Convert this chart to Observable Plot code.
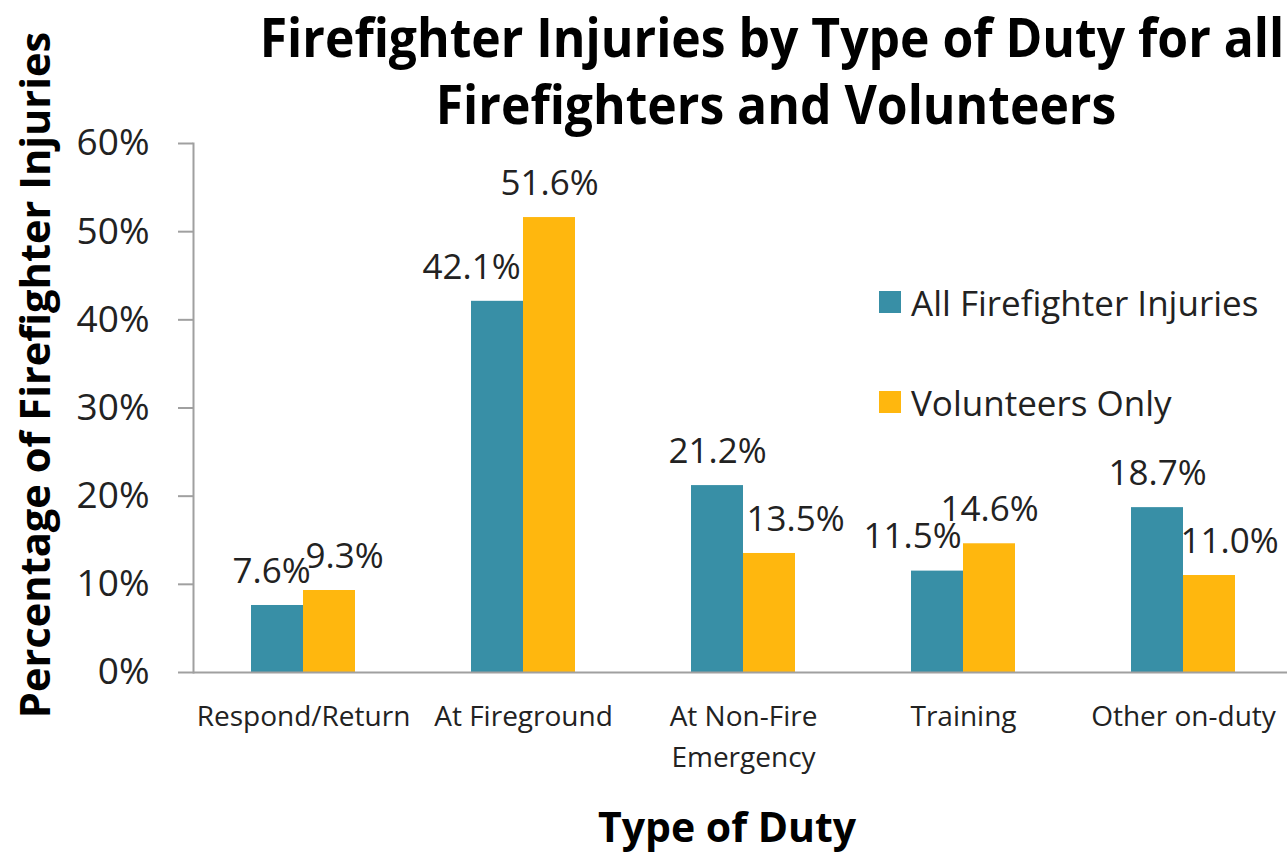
<!DOCTYPE html>
<html>
<head>
<meta charset="utf-8">
<script src="https://cdn.jsdelivr.net/npm/d3@7"></script>
<script src="https://cdn.jsdelivr.net/npm/@observablehq/plot@0.6"></script>
<style>
  html, body { margin: 0; padding: 0; background: #fff; }
  #wrap { position: relative; width: 1287px; height: 857px; overflow: hidden; font-family: "Open Sans", sans-serif; color: #1a1a1a; }
  #chart { position: absolute; left: 0; top: 0; }
  .abs { position: absolute; white-space: nowrap; line-height: 1; }
  .title { font-weight: 700; font-size: 53px; color: #000; transform: translate(-50%, -50%) scaleX(0.94); }
  .ytitle { font-weight: 700; font-size: 42px; color: #000; transform: translate(-50%, -50%) rotate(-90deg) scaleX(0.99); }
  .xtitle { font-weight: 700; font-size: 41px; color: #000; transform: translate(-50%, -50%); }
  .leg { font-size: 35px; color: #222; transform: translateY(-50%); }
  .sw { position: absolute; width: 22px; height: 22px; }
</style>
</head>
<body>
<div id="wrap">
  <div id="chart"></div>
  <div class="abs title" id="t1" style="left:772px; top:36px;"></div>
  <div class="abs title" id="t2" style="left:776px; top:103px;"></div>
  <div class="abs ytitle" id="yt" style="left:34px; top:375px;"></div>
  <div class="abs xtitle" id="xt" style="left:727px; top:826px;"></div>
  <div id="legend"></div>
</div>
<script>
// ---- data ----
const titleLines = ["Firefighter Injuries by Type of Duty for all", "Firefighters and Volunteers"];
const yTitle = "Percentage of Firefighter Injuries";
const xTitle = "Type of Duty";
const categories = ["Respond/Return", "At Fireground", "At Non-Fire Emergency", "Training", "Other on-duty"];
const tickLabels = ["Respond/Return", "At Fireground", "At Non-Fire\nEmergency", "Training", "Other on-duty"];
const seriesNames = ["All Firefighter Injuries", "Volunteers Only"];
const allInjuries = [7.6, 42.1, 21.2, 11.5, 18.7];
const volunteersOnly = [9.3, 51.6, 13.5, 14.6, 11.0];
const yTicks = [0, 10, 20, 30, 40, 50, 60];
const colors = ["#388fa6", "#ffb70e"];
// label nudges (horizontal, px) to mimic the reference's label placement
const nudgeAll = [-6, -26, 0, -25, 0];
const nudgeVol = [15, 0, 26, 0, 20];

document.getElementById("t1").textContent = titleLines[0];
document.getElementById("t2").textContent = titleLines[1];
document.getElementById("yt").textContent = yTitle;
document.getElementById("xt").textContent = xTitle;

// legend (HTML)
const legend = document.getElementById("legend");
const legendTops = [302, 402];
seriesNames.forEach((name, i) => {
  const sw = document.createElement("div");
  sw.className = "sw";
  sw.style.left = "879px";
  sw.style.top = (legendTops[i] - 11) + "px";
  sw.style.background = colors[i];
  legend.appendChild(sw);
  const t = document.createElement("div");
  t.className = "abs leg";
  t.style.left = "911px";
  t.style.top = legendTops[i] + "px";
  t.textContent = name;
  legend.appendChild(t);
});

const rows = [];
categories.forEach((c, i) => {
  rows.push({category: c, series: seriesNames[0], value: allInjuries[i], dx: -26 + nudgeAll[i]});
  rows.push({category: c, series: seriesNames[1], value: volunteersOnly[i], dx: 26 + nudgeVol[i]});
});
const rowsA = rows.filter(d => d.series === seriesNames[0]);
const rowsV = rows.filter(d => d.series === seriesNames[1]);

const grey = "#a0a0a0";
const labelMap = new Map(categories.map((c, i) => [c, tickLabels[i]]));

const chart = Plot.plot({
  width: 1287,
  height: 857,
  marginTop: 143,
  marginBottom: 185,
  marginLeft: 193,
  marginRight: 0,
  style: {fontFamily: "'Open Sans', sans-serif", background: "transparent", color: "#222"},
  x: {type: "band", domain: categories, range: [193, 1293], paddingInner: 0, paddingOuter: 0},
  y: {domain: [0, 60], range: [672, 143]},
  marks: [
    Plot.barY(rowsA, {x: "category", y: "value", fill: colors[0], insetLeft: 58, insetRight: 110}),
    Plot.barY(rowsV, {x: "category", y: "value", fill: colors[1], insetLeft: 110, insetRight: 58}),
    ...rows.map(r => Plot.text([r], {x: "category", y: "value", text: d => d.value.toFixed(1) + "%", dx: r.dx, dy: -34, fontSize: 35, fill: "#222"})),
    Plot.axisY({ticks: yTicks, tickFormat: d => d + "%", tickSize: 15, tickPadding: 29, fontSize: 37, stroke: grey, strokeWidth: 2, label: null, fill: "#222"}),
    Plot.axisX({tickSize: 0, tickPadding: 25, fontSize: 28, tickFormat: d => labelMap.get(d), lineHeight: 1.45, label: null, fill: "#222"}),
    Plot.ruleY([0], {stroke: grey, strokeWidth: 2}),
    Plot.frame({anchor: "left", stroke: grey, strokeWidth: 2})
  ]
});
document.getElementById("chart").appendChild(chart);
</script>
</body>
</html>
